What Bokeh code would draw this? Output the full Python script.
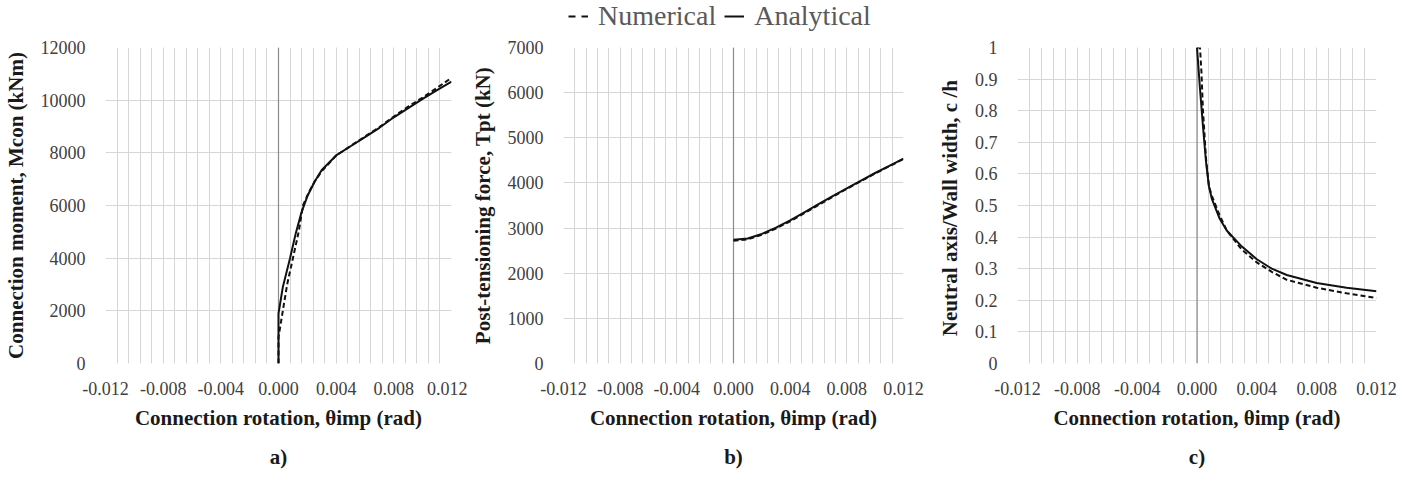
from bokeh.plotting import figure
from bokeh.layouts import row, column
from bokeh.models import (Range1d, FixedTicker, NumeralTickFormatter, Span, Legend,
                          LegendItem, Title, ColumnDataSource)
from bokeh.embed import file_html
from bokeh.resources import INLINE

# ---------------- data ----------------
x_major = [-0.012, -0.008, -0.004, 0.0, 0.004, 0.008, 0.012]
x_minor = [round(-0.012 + i * 0.0008, 4) for i in range(31)]

# a) Connection moment
theta_a_ana = [0, 0, 0.0003, 0.0008, 0.0012, 0.0016, 0.002, 0.0025, 0.003, 0.004, 0.005,
               0.006, 0.007, 0.008, 0.009, 0.010, 0.011, 0.012]
m_ana = [0, 1900, 2900, 4000, 4950, 5750, 6350, 6900, 7350, 7900, 8250,
         8600, 8950, 9350, 9700, 10050, 10380, 10700]
theta_a_num = [0, 0, 0.0003, 0.0006, 0.001, 0.0014, 0.0017, 0.0021, 0.0025, 0.003, 0.004,
               0.005, 0.006, 0.007, 0.008, 0.009, 0.010, 0.011, 0.012]
m_num = [0, 1000, 2000, 3000, 4000, 5000, 6000, 6500, 6900, 7300, 7900,
         8260, 8620, 8980, 9380, 9760, 10100, 10470, 10850]
y_ticks_a = [0, 2000, 4000, 6000, 8000, 10000, 12000]

# b) Post-tensioning force
theta_b = [0, 0.001, 0.002, 0.003, 0.004, 0.005, 0.006, 0.007, 0.008, 0.009, 0.010, 0.011, 0.012]
t_ana = [2740, 2770, 2870, 3010, 3170, 3350, 3530, 3710, 3880, 4050, 4220, 4380, 4540]
t_num = [2720, 2750, 2850, 2990, 3150, 3330, 3510, 3690, 3870, 4040, 4210, 4370, 4530]
y_ticks_b = [0, 1000, 2000, 3000, 4000, 5000, 6000, 7000]

# c) Neutral axis / wall width
theta_c_ana = [0, 0.0002, 0.0004, 0.0006, 0.0008, 0.001, 0.0015, 0.002, 0.003, 0.004,
               0.005, 0.006, 0.008, 0.010, 0.012]
c_ana = [1.0, 0.87, 0.75, 0.64, 0.56, 0.52, 0.46, 0.42, 0.37, 0.33,
         0.30, 0.28, 0.255, 0.24, 0.229]
theta_c_num = [0, 0.0002, 0.0003, 0.0004, 0.0006, 0.0008, 0.001, 0.0015, 0.002, 0.003,
               0.004, 0.005, 0.006, 0.008, 0.010, 0.012]
c_num = [1.0, 1.0, 0.92, 0.80, 0.65, 0.56, 0.53, 0.47, 0.42, 0.36,
         0.32, 0.29, 0.265, 0.24, 0.222, 0.207]
y_ticks_c = [0, 0.1, 0.2, 0.3, 0.4, 0.5, 0.6, 0.7, 0.8, 0.9, 1.0]

series_labels = ["Numerical", "Analytical"]
x_label = "Connection rotation, \u03b8imp (rad)"
FONT = "Liberation Serif"
GRID = "#d6d6d6"
DASH = "5 3"
LEG_H = 34


def make_fig(width, left, right, y_end, y_ticks, ylabel, sub, yfmt):
    p = figure(width=width, height=486 - LEG_H, min_border_left=left, min_border_right=right,
               min_border_top=47 - LEG_H, min_border_bottom=123,
               x_range=Range1d(-0.012, 0.012), y_range=Range1d(0, y_end),
               output_backend="svg", toolbar_location=None)
    p.outline_line_color = None
    tk = FixedTicker(ticks=x_major, minor_ticks=x_minor)
    p.xaxis.ticker = tk
    p.xgrid.ticker = tk
    p.xaxis.formatter = NumeralTickFormatter(format="0.000")
    yt = FixedTicker(ticks=y_ticks)
    p.yaxis.ticker = yt
    p.ygrid.ticker = yt
    p.yaxis.formatter = NumeralTickFormatter(format=yfmt)
    p.xgrid.grid_line_color = GRID
    p.xgrid.minor_grid_line_color = GRID
    p.ygrid.grid_line_color = GRID
    for ax in (p.xaxis[0], p.yaxis[0]):
        ax.axis_line_color = None
        ax.major_tick_line_color = None
        ax.minor_tick_line_color = None
        ax.major_label_text_font = FONT
        ax.major_label_text_font_size = "18px"
        ax.major_label_text_color = "#404040"
        ax.axis_label_text_font = FONT
        ax.axis_label_text_font_size = "21px"
        ax.axis_label_text_font_style = "bold"
        ax.axis_label_text_color = "#1a1a1a"
    p.xaxis.axis_label = x_label
    p.yaxis.axis_label = ylabel
    p.xaxis.major_label_standoff = 12
    p.xaxis.axis_label_standoff = 8
    p.yaxis.major_label_standoff = 14
    p.yaxis.axis_label_standoff = 10
    p.add_layout(Span(location=0, dimension="height", line_color="#8c8c8c",
                      line_width=1.2, level="underlay"))
    p.add_layout(Title(text=sub, align="center", text_font=FONT, text_font_size="21px",
                       text_font_style="bold", text_color="#1a1a1a", standoff=20), "below")
    return p


pa = make_fig(467, 98, 16, 12000, y_ticks_a, "Connection moment, Mcon (kNm)", "a)", "0")
pa.line(theta_a_ana, m_ana, line_color="#111111", line_width=2)
pa.line(theta_a_num, m_num, line_color="#111111", line_width=2, line_dash=DASH)

pb = make_fig(467, 94, 31, 7000, y_ticks_b, "Post-tensioning force, Tpt (kN)", "b)", "0")
pb.line(theta_b, t_ana, line_color="#111111", line_width=2)
pb.line(theta_b, t_num, line_color="#111111", line_width=2, line_dash=DASH)

pc = make_fig(468, 72, 26, 1, y_ticks_c, "Neutral axis/Wall width,  c /h", "c)", "0.[0]")
pc.line(theta_c_ana, c_ana, line_color="#111111", line_width=2)
pc.line(theta_c_num, c_num, line_color="#111111", line_width=2, line_dash=DASH)

# legend strip across the top (renderers lie outside the visible range; only legend glyphs show)
pl = figure(width=1402, height=LEG_H, min_border=0, x_range=Range1d(0, 1), y_range=Range1d(0, 1),
            x_axis_location=None, y_axis_location=None,
            output_backend="svg", toolbar_location=None)
pl.outline_line_color = None
pl.grid.visible = False
off = ColumnDataSource(data=dict(x=[-10, -9], y=[-10, -10]))
leg_num = pl.line("x", "y", source=off, line_color="#111111", line_width=2, line_dash="7 6")
leg_ana = pl.line("x", "y", source=off, line_color="#111111", line_width=2)
legend = Legend(items=[LegendItem(label=series_labels[0], renderers=[leg_num]),
                       LegendItem(label=series_labels[1], renderers=[leg_ana])],
                location=(568, 2), orientation="horizontal",
                label_text_font=FONT, label_text_font_size="28px",
                label_text_color="#595959", glyph_width=20, label_standoff=10,
                spacing=8, padding=0, margin=0, border_line_color=None,
                background_fill_alpha=0)
pl.add_layout(legend, "center")

layout = column(pl, row(pa, pb, pc))
open("out.html", "w").write(file_html(layout, INLINE))
